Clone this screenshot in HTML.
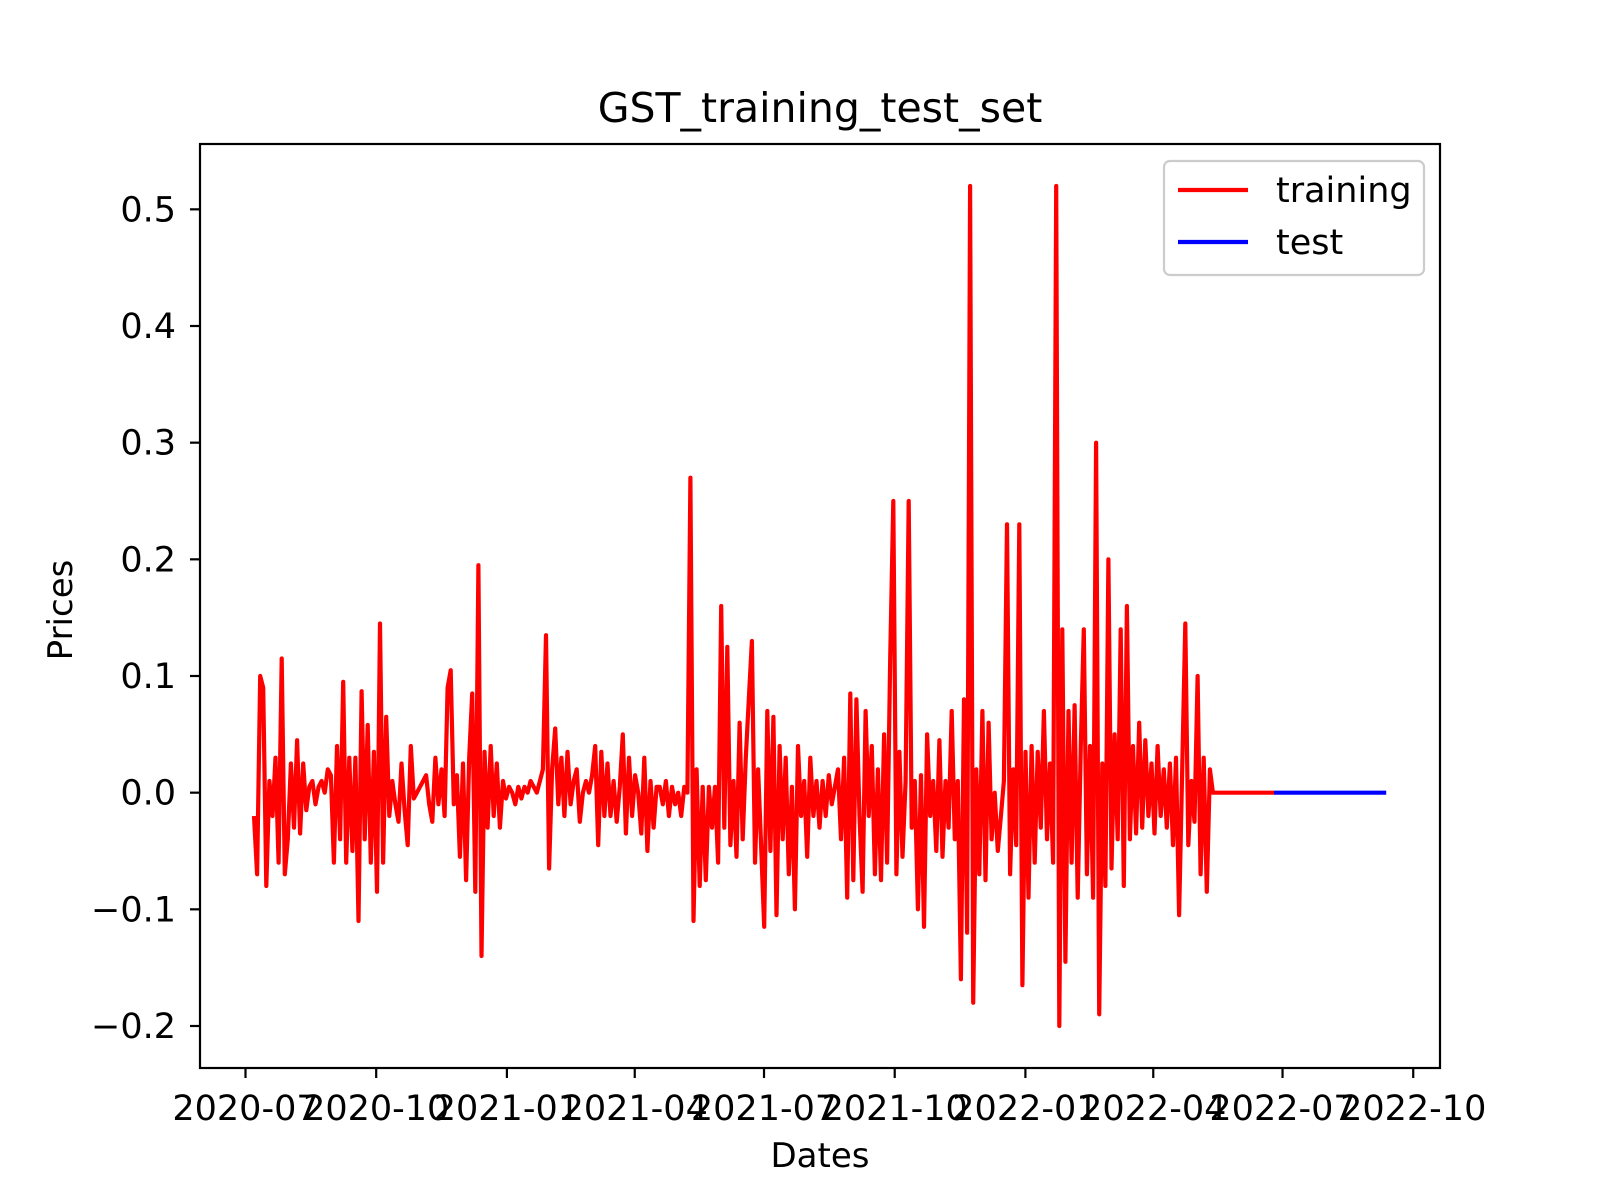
<!DOCTYPE html>
<html><head><meta charset="utf-8"><style>
html,body{margin:0;padding:0;background:#fff;}
svg{display:block;font-family:"DejaVu Sans","Liberation Sans",sans-serif;}
</style></head><body>
<svg id="chart" width="1600" height="1200" viewBox="0 0 1600 1200">
<rect width="1600" height="1200" fill="#fff"/>
<text x="820" y="122" font-size="41" text-anchor="middle">GST_training_test_set</text>
<g id="plot"></g>
<rect x="200" y="144" width="1240" height="924" fill="none" stroke="#000" stroke-width="2.2"/>
<g id="xticks"></g>
<g id="yticks"></g>
<text x="820" y="1167" font-size="34" text-anchor="middle">Dates</text>
<text transform="translate(72,610) rotate(-90)" font-size="34" text-anchor="middle">Prices</text>
<g>
<rect x="1164" y="161" width="260" height="114" rx="6" fill="#fff" fill-opacity="0.8" stroke="#ccc" stroke-width="2.2"/>
<line x1="1178" y1="190" x2="1248" y2="190" stroke="#f00" stroke-width="4.2"/>
<text x="1276" y="202" font-size="35">training</text>
<line x1="1178" y1="242" x2="1248" y2="242" stroke="#00f" stroke-width="4.2"/>
<text x="1276" y="254" font-size="35">test</text>
</g>
</svg>
<script>
const xTickLabels = ["2020-07","2020-10","2021-01","2021-04","2021-07","2021-10","2022-01","2022-04","2022-07","2022-10"];
const yTickValues = [-0.2,-0.1,0.0,0.1,0.2,0.3,0.4,0.5];
const yTickLabels = ["\u22120.2","\u22120.1","0.0","0.1","0.2","0.3","0.4","0.5"];
const trainStart = "2020-07-07";
const trainEnd = "2022-05-13";
const trainTailEnd = "2022-06-25";
const trainTailValue = 0;
const testDates = ["2022-06-25","2022-09-12"];
const testValues = [0, 0];
const trainValues = [
-0.02,-0.07,0.1,0.09,-0.08,0.01,-0.02,0.03,-0.06,0.115,-0.07,-0.04,0.025,-0.03,0.045,-0.035,0.025,-0.015,0.005,0.01,-0.01,0.005,0.01,0.0,0.02,0.015,-0.06,0.04,-0.04,0.095,-0.06,0.03,-0.05,
0.03,-0.11,0.087,-0.04,0.058,-0.06,0.035,-0.085,0.145,-0.06,0.065,-0.02,0.01,-0.01,-0.025,0.025,-0.015,-0.045,0.04,-0.005,0.0,0.005,0.01,0.015,-0.01,-0.025,0.03,-0.01,0.02,-0.02,0.09,0.105,-0.01,
0.015,-0.055,0.025,-0.075,0.03,0.085,-0.085,0.195,-0.14,0.035,-0.03,0.04,-0.02,0.025,-0.03,0.01,-0.005,0.005,0.0,-0.01,0.005,-0.005,0.005,0.0,0.01,0.005,0.0,0.01,0.02,0.135,-0.065,0.02,0.055,
-0.01,0.03,-0.02,0.035,-0.01,0.01,0.02,-0.025,0.0,0.01,0.0,0.015,0.04,-0.045,0.035,-0.02,0.025,-0.02,0.01,-0.025,0.005,0.05,-0.035,0.03,-0.02,0.015,0.0,-0.035,0.03,-0.05,0.01,-0.03,0.005,
0.005,-0.01,0.01,-0.02,0.005,-0.01,0.0,-0.02,0.005,0.0,0.27,-0.11,0.02,-0.08,0.005,-0.075,0.005,-0.03,0.005,-0.06,0.16,-0.03,0.125,-0.045,0.01,-0.055,0.06,-0.04,0.03,0.08,0.13,-0.06,0.02,
-0.045,-0.115,0.07,-0.05,0.065,-0.105,0.04,-0.04,0.03,-0.07,0.005,-0.1,0.04,-0.02,0.01,-0.055,0.03,-0.02,0.01,-0.03,0.01,-0.02,0.015,-0.01,0.005,0.02,-0.04,0.03,-0.09,0.085,-0.075,0.08,-0.02,
-0.085,0.07,-0.02,0.04,-0.07,0.02,-0.075,0.05,-0.06,0.115,0.25,-0.07,0.035,-0.055,0.01,0.25,-0.03,0.01,-0.1,0.015,-0.115,0.05,-0.02,0.01,-0.05,0.045,-0.055,0.01,-0.03,0.07,-0.04,0.01,-0.16,
0.08,-0.12,0.52,-0.18,0.02,-0.07,0.07,-0.075,0.06,-0.04,0.0,-0.05,-0.02,0.01,0.23,-0.07,0.02,-0.045,0.23,-0.165,0.035,-0.09,0.04,-0.06,0.035,-0.03,0.07,-0.04,0.025,-0.06,0.52,-0.2,0.14,
-0.145,0.07,-0.06,0.075,-0.09,0.04,0.14,-0.07,0.04,-0.09,0.3,-0.19,0.025,-0.08,0.2,-0.065,0.05,-0.04,0.14,-0.08,0.16,-0.04,0.04,-0.035,0.06,-0.03,0.045,-0.02,0.025,-0.035,0.04,-0.02,0.02,
-0.03,0.025,-0.045,0.03,-0.105,0.02,0.145,-0.045,0.01,-0.025,0.1,-0.07,0.03,-0.085,0.02,0.0
];

const NS = "http://www.w3.org/2000/svg";
const DAY = 86400000;
const origin = Date.UTC(2020,6,1);
function dayOf(s){const p=s.split("-").map(Number);return (Date.UTC(p[0],p[1]-1,p[2]||1)-origin)/DAY;}
function xScale(day){return 245.5 + day*1.4206;}
const yMin=-0.236, yMax=0.556;
function yScale(v){return 144 + (yMax - v)/(yMax - yMin)*924;}

const plot=document.getElementById("plot");
const d0=dayOf(trainStart), d1=dayOf(trainEnd);
let pts=trainValues.map((v,i)=>[xScale(d0+(d1-d0)*i/(trainValues.length-1)), yScale(v)]);
pts.push([xScale(dayOf(trainTailEnd)), yScale(trainTailValue)]);
const train=document.createElementNS(NS,"polyline");
train.setAttribute("points",pts.map(p=>p[0].toFixed(1)+","+p[1].toFixed(1)).join(" "));
train.setAttribute("fill","none");train.setAttribute("stroke","#f00");train.setAttribute("stroke-width","4.2");train.setAttribute("stroke-linejoin","round");


plot.appendChild(train);
const test=document.createElementNS(NS,"polyline");
test.setAttribute("points",testDates.map((d,i)=>xScale(dayOf(d)).toFixed(1)+","+yScale(testValues[i]).toFixed(1)).join(" "));
test.setAttribute("fill","none");test.setAttribute("stroke","#00f");test.setAttribute("stroke-width","4.2");


plot.appendChild(test);

const xg=document.getElementById("xticks");
xTickLabels.forEach(l=>{
  const x=xScale(dayOf(l));
  const t=document.createElementNS(NS,"line");
  t.setAttribute("x1",x);t.setAttribute("x2",x);t.setAttribute("y1",1068);t.setAttribute("y2",1078);
  t.setAttribute("stroke","#000");t.setAttribute("stroke-width","2.2");
  
  
  xg.appendChild(t);
  const tx=document.createElementNS(NS,"text");
  tx.setAttribute("x",x);tx.setAttribute("y",1120);tx.setAttribute("font-size","35");tx.setAttribute("text-anchor","middle");
  tx.textContent=l;
  
  
  xg.appendChild(tx);
});
const yg=document.getElementById("yticks");
yTickValues.forEach((v,i)=>{
  const y=yScale(v);
  const t=document.createElementNS(NS,"line");
  t.setAttribute("x1",190);t.setAttribute("x2",200);t.setAttribute("y1",y);t.setAttribute("y2",y);
  t.setAttribute("stroke","#000");t.setAttribute("stroke-width","2.2");
  
  
  yg.appendChild(t);
  const tx=document.createElementNS(NS,"text");
  tx.setAttribute("x",176);tx.setAttribute("y",y+12);tx.setAttribute("font-size","35");tx.setAttribute("text-anchor","end");
  tx.textContent=yTickLabels[i];
  
  
  yg.appendChild(tx);
});
</script>
</body></html>
